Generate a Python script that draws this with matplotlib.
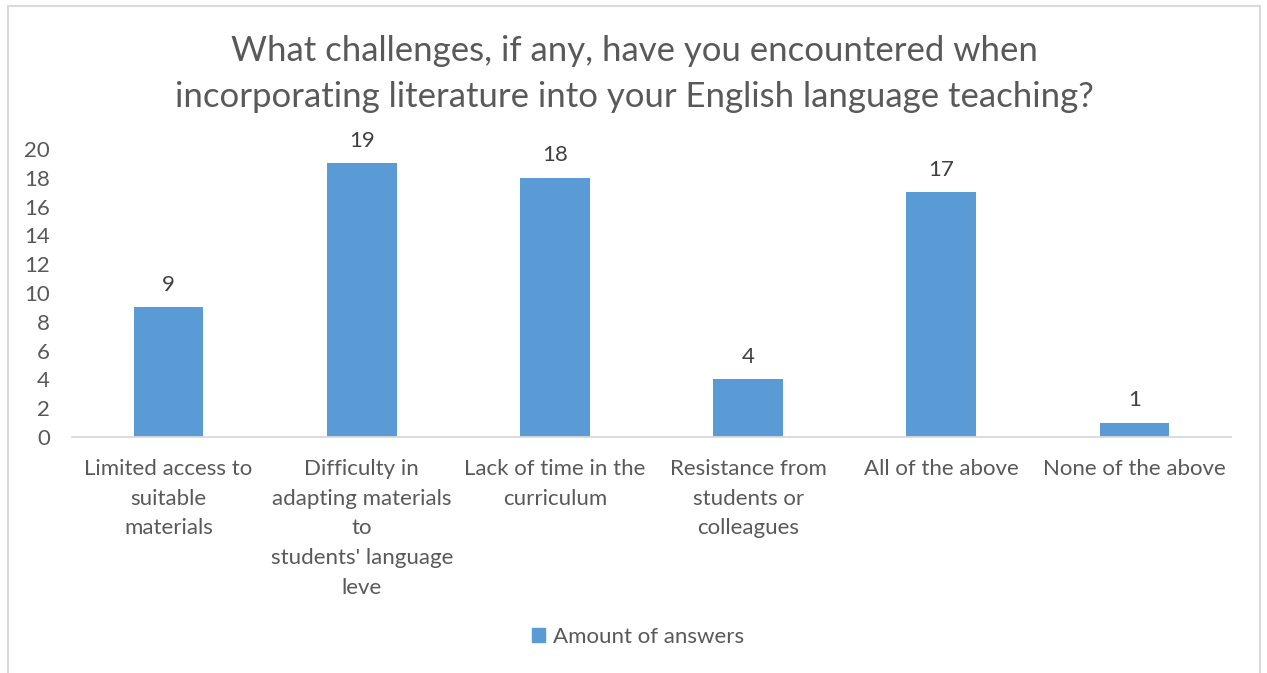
import matplotlib
matplotlib.use("Agg")
import matplotlib.pyplot as plt
from matplotlib.patches import Rectangle, Patch

categories = [
    "Limited access to\nsuitable\nmaterials",
    "Difficulty in\nadapting materials\nto\nstudents' language\nleve",
    "Lack of time in the\ncurriculum",
    "Resistance from\nstudents or\ncolleagues",
    "All of the above",
    "None of the above",
]
answers = [9, 19, 18, 4, 17, 1]
y_ticks = list(range(0, 21, 2))
series_name = "Amount of answers"
title = ("What challenges, if any, have you encountered when\n"
         "incorporating literature into your English language teaching?")

BAR = "#5B9BD5"
TXT = "#595959"
LINE = "#D9D9D9"

plt.rcParams["font.family"] = ["Lato", "DejaVu Sans"]

W, H = 1267, 673
fig = plt.figure(figsize=(W / 100, H / 100), dpi=100)
fig.patch.set_facecolor("white")

# chart-area border
fig.patches.append(Rectangle((8 / W, -0.05), (1260 - 8) / W, 1.05 - 6 / H,
                             transform=fig.transFigure, fill=False,
                             edgecolor=LINE, linewidth=1.5))

ax = fig.add_axes([72 / W, 1 - 437 / H, 1159 / W, 288 / H])
x = list(range(len(categories)))
bars = ax.bar(x, answers, width=0.36, color=BAR, label=series_name, zorder=2)
ax.bar_label(bars, labels=[str(v) for v in answers], padding=9,
             fontsize=16, color="#404040")

ax.set_xlim(-0.5, len(categories) - 0.5)
ax.set_ylim(0, 20)
ax.set_yticks(y_ticks)
ax.set_xticks(x)
ax.set_xticklabels(categories, linespacing=1.6)
ax.tick_params(axis="both", length=0, labelsize=16, labelcolor=TXT)
ax.tick_params(axis="y", pad=16)
ax.tick_params(axis="x", pad=16)
for s in ("top", "right", "left"):
    ax.spines[s].set_visible(False)
ax.spines["bottom"].set_color(LINE)
ax.spines["bottom"].set_linewidth(1.3)

fig.text(0.5 * (8 + 1260) / W, 1 - 74 / H, title, ha="center", va="center",
         fontsize=25, color=TXT, linespacing=1.55)

fig.legend(handles=[Patch(color=BAR, label=series_name)], loc="center",
           bbox_to_anchor=(638 / W, 1 - 637 / H), frameon=False,
           fontsize=16, labelcolor=TXT, handlelength=0.6, handleheight=0.6,
           handletextpad=0.35)

fig.savefig("out.png", dpi=100, facecolor="white")
